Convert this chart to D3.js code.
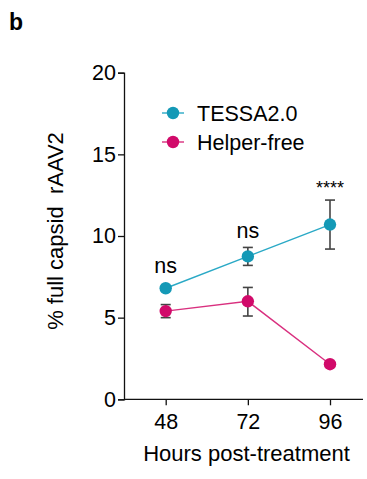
<!DOCTYPE html>
<html>
<head>
<meta charset="utf-8">
<script src="https://cdn.jsdelivr.net/npm/d3@7"></script>
<style>
  body { margin: 0; background: #fff; }
  svg { display: block; font-family: Arial, "Liberation Sans", sans-serif; }
</style>
</head>
<body>
<div id="chart"></div>
<script>
const hours = ["48", "72", "96"];
const series_names = ["TESSA2.0", "Helper-free"];
const tessa_mean = [6.8, 8.75, 10.7];
const tessa_low = [6.8, 8.2, 9.2];
const tessa_high = [6.8, 9.3, 12.2];
const helper_mean = [5.4, 6.0, 2.15];
const helper_low = [5.0, 5.1, 2.15];
const helper_high = [5.8, 6.85, 2.15];
const sig_labels = ["ns", "ns", "****"];
const y_ticks = [0, 5, 10, 15, 20];
const colors = {"TESSA2.0": "#1499b6", "Helper-free": "#d10a6a"};
const line_colors = {"TESSA2.0": "#2aa9c6", "Helper-free": "#d9307f"};

const width = 367, height = 479;
const r = 6.2;
const svg = d3.select("#chart").append("svg")
    .attr("width", width)
    .attr("height", height);

const scale_x = d3.scalePoint().domain(hours).range([165.7, 330]);
const scale_y = d3.scaleLinear().domain([0, 20]).range([399.3, 72.7]);

svg.append("text")
    .attr("x", 9).attr("y", 30)
    .style("font-size", "23px").style("font-weight", "bold")
    .text("b");

// axes
const yAxis = svg.append("g")
    .attr("transform", "translate(124,0)")
    .call(d3.axisLeft(scale_y).tickValues(y_ticks).tickSize(6).tickPadding(2));
yAxis.selectAll("text").style("font-size", "21.5px").attr("fill", "#000");

const xAxis = svg.append("g")
    .attr("transform", "translate(0,399.3)")
    .call(d3.axisBottom(scale_x).tickSize(6).tickPadding(8));
xAxis.select(".domain").attr("d", "M124,0H363");
xAxis.selectAll("text").style("font-size", "21.5px").attr("fill", "#000");
[yAxis, xAxis].forEach(a => {
    a.select(".domain").attr("stroke", "#111").attr("stroke-width", 1.3);
    a.selectAll(".tick line").attr("stroke", "#111").attr("stroke-width", 1.3);
});

svg.append("text")
    .attr("x", 246.5).attr("y", 461)
    .attr("text-anchor", "middle")
    .style("font-size", "22px")
    .text("Hours post-treatment");

svg.append("text")
    .attr("transform", "translate(63,231) rotate(-90)")
    .attr("text-anchor", "middle")
    .style("font-size", "22px")
    .text("% full capsid\u00a0 rAAV2");

const series = [
    {name: "TESSA2.0", mean: tessa_mean, low: tessa_low, high: tessa_high},
    {name: "Helper-free", mean: helper_mean, low: helper_low, high: helper_high}
];

const line = d3.line().x(d => scale_x(d.hour)).y(d => scale_y(d.value));

series.forEach(s => {
    const pts = hours.map((h, i) => ({hour: h, value: s.mean[i], low: s.low[i], high: s.high[i]}));
    const g = svg.append("g");
    g.append("path")
        .datum(pts)
        .attr("d", line)
        .attr("fill", "none")
        .attr("stroke", line_colors[s.name])
        .attr("stroke-width", 1.4);
    const err = g.selectAll(".err")
        .data(pts.filter(d => d.high > d.low))
        .join("g");
    err.append("line")
        .attr("x1", d => scale_x(d.hour)).attr("x2", d => scale_x(d.hour))
        .attr("y1", d => scale_y(d.low)).attr("y2", d => scale_y(d.high));
    err.append("line")
        .attr("x1", d => scale_x(d.hour) - 5).attr("x2", d => scale_x(d.hour) + 5)
        .attr("y1", d => scale_y(d.low)).attr("y2", d => scale_y(d.low));
    err.append("line")
        .attr("x1", d => scale_x(d.hour) - 5).attr("x2", d => scale_x(d.hour) + 5)
        .attr("y1", d => scale_y(d.high)).attr("y2", d => scale_y(d.high));
    err.selectAll("line").attr("stroke", "#444").attr("stroke-width", 1.6);
    g.selectAll("circle")
        .data(pts)
        .join("circle")
        .attr("cx", d => scale_x(d.hour))
        .attr("cy", d => scale_y(d.value))
        .attr("r", r)
        .attr("fill", colors[s.name]);
});

// significance labels above the highest mark in each group
hours.forEach((h, i) => {
    const top_px = Math.min(
        scale_y(tessa_high[i]), scale_y(tessa_mean[i]) - r,
        scale_y(helper_high[i]), scale_y(helper_mean[i]) - r);
    const star = sig_labels[i].startsWith("*");
    svg.append("text")
        .attr("x", scale_x(h))
        .attr("y", top_px - (star ? 6.5 : 9))
        .attr("text-anchor", "middle")
        .style("font-size", star ? "18px" : "21.5px")
        .text(sig_labels[i]);
});

// legend
series_names.forEach((name, i) => {
    const ly = 113 + i * 29;
    const lg = svg.append("g");
    lg.append("line")
        .attr("x1", 162).attr("x2", 184)
        .attr("y1", ly).attr("y2", ly)
        .attr("stroke", line_colors[name]).attr("stroke-width", 1.4);
    lg.append("circle")
        .attr("cx", 173).attr("cy", ly).attr("r", r)
        .attr("fill", colors[name]);
    lg.append("text")
        .attr("x", 197).attr("y", ly + 7.5)
        .style("font-size", "21.5px")
        .text(name);
});
</script>
</body>
</html>
